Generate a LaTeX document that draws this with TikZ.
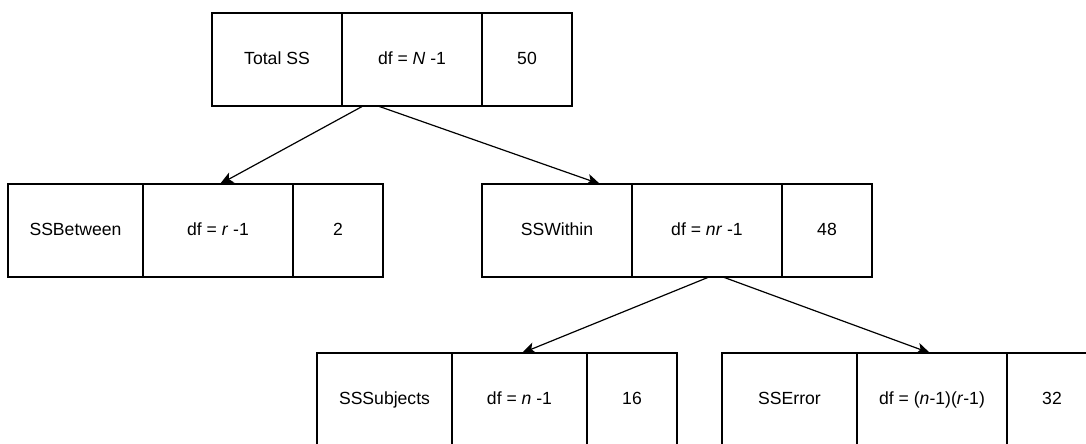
\documentclass[tikz,border=0pt]{standalone}
\usepackage{fontspec}
\setmainfont{Liberation Sans}
\usetikzlibrary{calc,arrows.meta}

\tikzset{
	cell/.style={draw, line width=1pt, outer sep=0pt, anchor=north west,
		minimum width=#1*0.75pt, minimum height=93*0.75pt, inner sep=0pt,
		text height=0.9em, text depth=0.18em},
	link/.style={line width=0.9pt, -{Stealth[length=10pt,width=8.5pt,inset=2.5pt]}}
}

\begin{document}
\begin{tikzpicture}[x=0.75pt, y=-0.75pt, font=\fontsize{13.2}{15}\selectfont]
			%%%%% START %%%%%
			\useasboundingbox (0, 0) rectangle (1086, 443);
			
			% total
			\node[cell=130] (tot1) at (212, 13) {Total SS};
			\node[cell=140] (tot2) at (342, 13) {df = \textit{N} -1};
			\node[cell=90]  (tot3) at (482, 13) {50};
			
			% between
			\node[cell=135] (btw1) at (8, 184) {SSBetween};
			\node[cell=150] (btw2) at (143, 184) {df = \textit{r} -1};
			\node[cell=90]  (btw3) at (293, 184) {2};
			
			% within
			\node[cell=150] (win1) at (482, 184) {SSWithin};
			\node[cell=150] (win2) at (632, 184) {df = \textit{nr} -1};
			\node[cell=90]  (win3) at (782, 184) {48};
			
			% subjects
			\node[cell=135] (sub1) at (317, 353) {SSSubjects};
			\node[cell=135] (sub2) at (452, 353) {df = \textit{n} -1};
			\node[cell=90]  (sub3) at (587, 353) {16};
			
			% error
			\node[cell=135] (err1) at (722, 353) {SSError};
			\node[cell=150] (err2) at (857, 353) {df = (\textit{n}-1)(\textit{r}-1)};
			\node[cell=90]  (err3) at (1007, 353) {32};
			
			% links
			\draw[link] ($(tot2.south west)+(21, 0)$) -- ($(btw2.north west)+(77, 0)$);
			\draw[link] ($(tot2.south west)+(36, 0)$) -- ($(win1.north west)+(118, 0)$);
			\draw[link] ($(win2.south west)+(77, 0)$) -- ($(sub2.north west)+(70, 0)$);
			\draw[link] ($(win2.south west)+(91, 0)$) -- ($(err2.north west)+(73, 0)$);
			
			%%%%% END %%%%%
\end{tikzpicture}
\end{document}
